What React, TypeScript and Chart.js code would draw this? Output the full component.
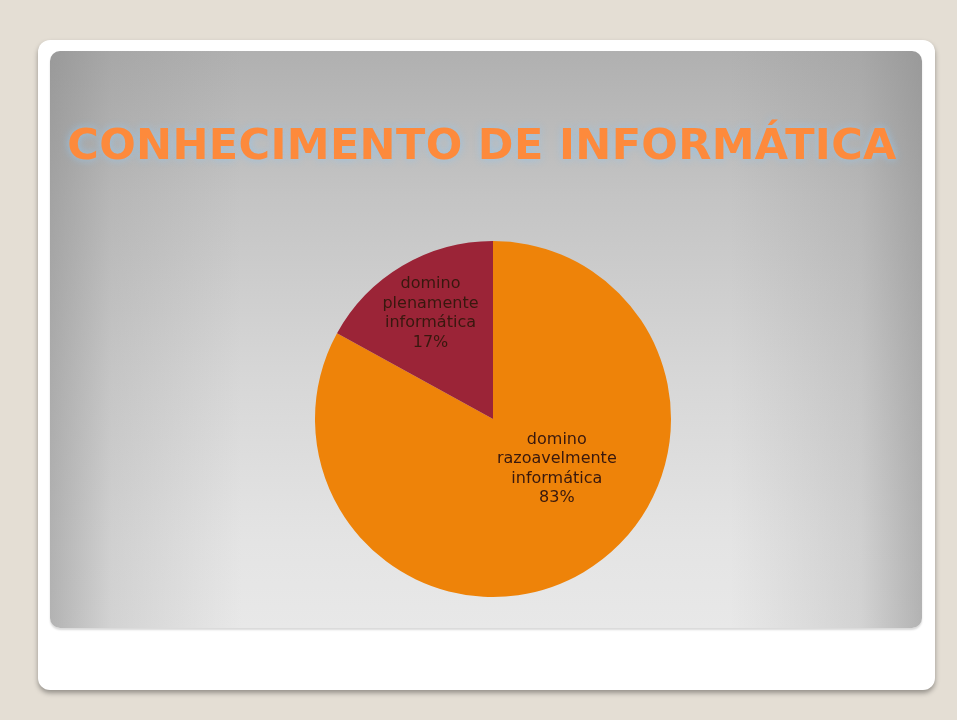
import React, { useEffect, useRef } from "react";
import { Chart, registerables } from "chart.js";

Chart.register(...registerables);

const TITLE = "CONHECIMENTO DE INFORMÁTICA";
const categories = ["domino razoavelmente informática", "domino plenamente informática"];
const values = [83, 17];
const sliceColors = ["#ee8309", "#9b2437"];
// label placement relative to each slice: fraction of radius, angle shift (deg)
const labelFrac = [0.455, 0.69];
const labelShift = [-21.4, 0];

const sliceLabelPlugin = {
  id: "sliceLabels",
  afterDatasetsDraw(chart: any) {
    const ctx = chart.ctx;
    const meta = chart.getDatasetMeta(0);
    const data = chart.data.datasets[0].data as number[];
    const total = data.reduce((a, b) => a + b, 0);
    ctx.save();
    ctx.font = "16px 'DejaVu Sans', sans-serif";
    ctx.fillStyle = "#38180e";
    ctx.textAlign = "center";
    ctx.textBaseline = "middle";
    meta.data.forEach((arc: any, i: number) => {
      const p = arc.getProps(["x", "y", "startAngle", "endAngle", "outerRadius"], true);
      const mid = (p.startAngle + p.endAngle) / 2 + (labelShift[i] * Math.PI) / 180;
      const r = p.outerRadius * labelFrac[i];
      const cx = p.x + Math.cos(mid) * r;
      const cy = p.y + Math.sin(mid) * r;
      const lines = String(chart.data.labels[i]).split(" ");
      lines.push(Math.round((data[i] / total) * 100) + "%");
      const lh = 19.5;
      const y0 = cy - ((lines.length - 1) * lh) / 2;
      lines.forEach((t, k) => ctx.fillText(t, cx, y0 + k * lh));
    });
    ctx.restore();
  },
};

const slideTitlePlugin = {
  id: "slideTitle",
  afterDraw(chart: any) {
    const ctx = chart.ctx;
    ctx.save();
    ctx.font = "bold 43px 'DejaVu Sans', Verdana, sans-serif";
    (ctx as any).letterSpacing = "0.35px";
    ctx.textAlign = "center";
    ctx.textBaseline = "alphabetic";
    ctx.shadowColor = "rgba(150,195,230,0.95)";
    ctx.shadowBlur = 8;
    ctx.fillStyle = "#fd8a3c";
    ctx.fillText(TITLE, chart.width / 2 - 4, 108);
    ctx.restore();
  },
};

function PieChart() {
  const ref = useRef<HTMLCanvasElement>(null);
  useEffect(() => {
    if (!ref.current) return;
    const chart = new Chart(ref.current, {
      type: "pie",
      data: {
        labels: categories,
        datasets: [
          {
            data: values,
            backgroundColor: sliceColors,
            borderWidth: 0,
          },
        ],
      },
      options: {
        animation: false,
        responsive: false,
        layout: { padding: { left: 14, right: 0, top: 190, bottom: 31 } },
        plugins: {
          legend: { display: false },
          tooltip: { enabled: false },
          title: { display: false },
        },
      },
      plugins: [sliceLabelPlugin, slideTitlePlugin],
    });
    return () => chart.destroy();
  }, []);
  return <canvas ref={ref} width={872} height={577} style={{ display: "block" }} />;
}

export default function App() {
  return (
    <div
      style={{
        position: "fixed",
        left: 0,
        top: 0,
        width: 957,
        height: 720,
        background: "#e4ded4",
        overflow: "hidden",
      }}
    >
      <div
        style={{
          position: "absolute",
          left: 38,
          top: 40,
          width: 897,
          height: 650,
          background: "#ffffff",
          borderRadius: 12,
          boxShadow: "0 3px 5px rgba(0,0,0,0.35)",
        }}
      />
      <div
        style={{
          position: "absolute",
          left: 50,
          top: 51,
          width: 872,
          height: 577,
          borderRadius: 10,
          overflow: "hidden",
          boxShadow: "0 2px 2px rgba(0,0,0,0.15)",
          background:
            "linear-gradient(to right, rgba(135,135,135,0.55) 0%, rgba(135,135,135,0.22) 7%, rgba(135,135,135,0) 22%, rgba(135,135,135,0) 78%, rgba(135,135,135,0.22) 93%, rgba(135,135,135,0.55) 100%), linear-gradient(to bottom, #b0b0b0 0%, #c4c4c4 25%, #d6d6d6 55%, #e4e4e4 85%, #e8e8e8 100%)",
        }}
      >
        <PieChart />
      </div>
    </div>
  );
}
